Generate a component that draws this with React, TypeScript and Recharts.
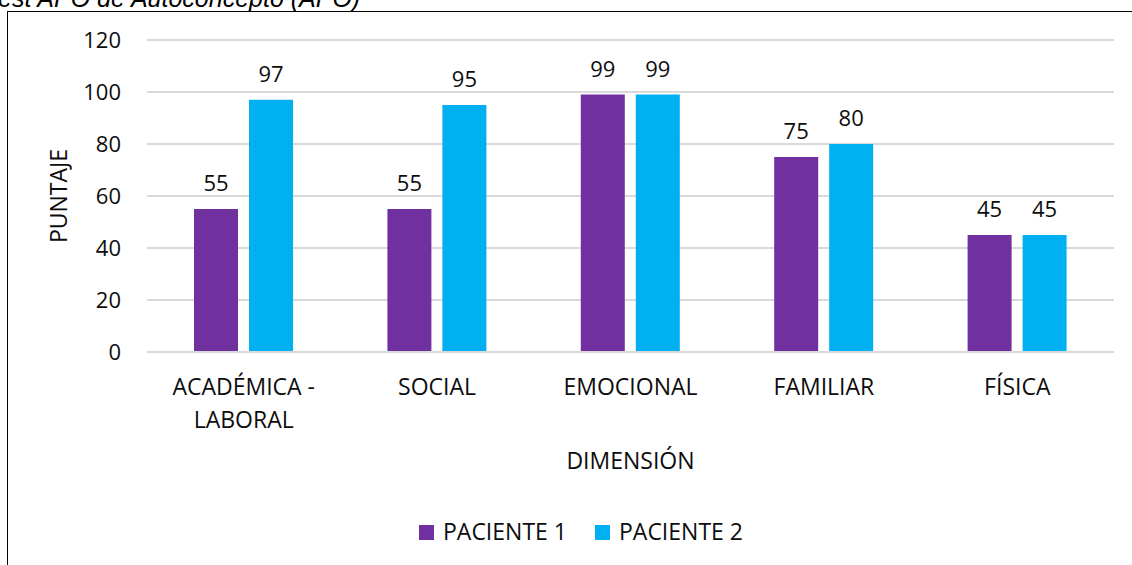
import React from 'react'
import { BarChart, Bar, XAxis, YAxis, CartesianGrid, LabelList } from 'recharts'

const categories = ['ACADÉMICA - LABORAL', 'SOCIAL', 'EMOCIONAL', 'FAMILIAR', 'FÍSICA']
const paciente1 = [55, 55, 99, 75, 45]
const paciente2 = [97, 95, 99, 80, 45]
const yTicks = [0, 20, 40, 60, 80, 100, 120]

const series = [
  { key: 'p1', name: 'PACIENTE 1', color: '#7030A0' },
  { key: 'p2', name: 'PACIENTE 2', color: '#00B0F0' },
]

const data = categories.map((name, i) => ({ name, p1: paciente1[i], p2: paciente2[i] }))

const FONT = '"Open Sans", sans-serif'
const TEXT = '#0d0d0d'
const GRID = '#d9d9d9'
// words look a touch wider than digits in the original font
const WORD_SIZE = 23
const NUM_SIZE = 22

const CategoryTick = ({ x, y, payload }: any) => {
  const v: string = payload.value
  const lines = v.includes(' - ') ? [v.split(' - ')[0] + ' -', v.split(' - ')[1]] : [v]
  return (
    <text x={x} y={y + 43} textAnchor="middle" fontFamily={FONT} fontSize={WORD_SIZE} fill={TEXT}>
      {lines.map((l, i) => (
        <tspan key={i} x={x} dy={i === 0 ? 0 : 33}>
          {l}
        </tspan>
      ))}
    </text>
  )
}

const YLabel = ({ viewBox }: any) => {
  const cx = viewBox.x + 58
  const cy = viewBox.y + viewBox.height / 2
  return (
    <text
      x={cx}
      y={cy}
      transform={`rotate(-90 ${cx} ${cy})`}
      textAnchor="middle"
      dominantBaseline="central"
      fontFamily={FONT}
      fontSize={WORD_SIZE}
      fill={TEXT}
    >
      PUNTAJE
    </text>
  )
}

const XLabel = ({ viewBox }: any) => (
  <text
    x={viewBox.x + viewBox.width / 2}
    y={viewBox.y + 117}
    textAnchor="middle"
    fontFamily={FONT}
    fontSize={WORD_SIZE}
    fill={TEXT}
  >
    DIMENSIÓN
  </text>
)

export default function App() {
  return (
    <div
      style={{
        position: 'absolute',
        left: 0,
        top: 0,
        width: 1132,
        height: 565,
        overflow: 'hidden',
        background: '#fff',
      }}
    >
      {/* chart frame, runs off the right and bottom of the picture */}
      <div
        style={{
          position: 'absolute',
          left: 7,
          top: 11,
          width: 1200,
          height: 600,
          border: '1.5px solid #000',
        }}
      />
      <div style={{ position: 'absolute', left: 0, top: 0 }}>
        <BarChart
          width={1132}
          height={565}
          data={data}
          margin={{ top: 40, right: 18, bottom: 88, left: 0 }}
          barSize={44}
          barGap={11}
        >
          <CartesianGrid vertical={false} stroke={GRID} strokeWidth={2} />
          <XAxis
            dataKey="name"
            height={125}
            tickLine={false}
            tickSize={0}
            tickMargin={0}
            axisLine={{ stroke: GRID, strokeWidth: 2 }}
            tick={<CategoryTick />}
            interval={0}
            label={<XLabel />}
          />
          <YAxis
            width={147}
            domain={[0, 120]}
            ticks={yTicks}
            axisLine={false}
            tickLine={false}
            tickSize={0}
            tickMargin={26}
            tick={{ fontFamily: FONT, fontSize: NUM_SIZE, fill: TEXT }}
            label={<YLabel />}
          />
          {series.map((s) => (
            <Bar key={s.key} dataKey={s.key} name={s.name} fill={s.color} isAnimationActive={false}>
              <LabelList
                dataKey={s.key}
                position="top"
                offset={18}
                style={{ fontFamily: FONT, fontSize: NUM_SIZE, fill: TEXT }}
              />
            </Bar>
          ))}
        </BarChart>
      </div>
      <svg
        width={1132}
        height={565}
        style={{ position: 'absolute', left: 0, top: 0, overflow: 'visible', pointerEvents: 'none' }}
      >
        <text
          x={-15}
          y={7}
          fontFamily='"Liberation Sans", Arial, sans-serif'
          fontStyle="italic"
          fontSize={25}
          fill="#000"
        >
          Test APO de Autoconcepto (APO)
        </text>
        {series.map((s, i) => (
          <g key={s.key}>
            <rect x={419 + i * 176} y={525} width={15} height={15} fill={s.color} />
            <text x={443 + i * 176} y={540} fontFamily={FONT} fontSize={WORD_SIZE} fill={TEXT}>
              {s.name}
            </text>
          </g>
        ))}
      </svg>
    </div>
  )
}
